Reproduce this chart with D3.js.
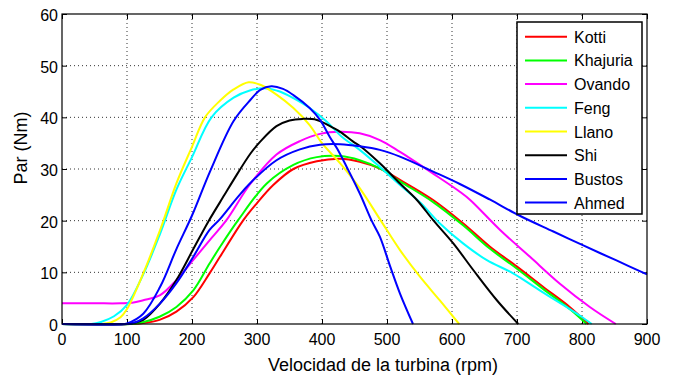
<!DOCTYPE html>
<html>
<head>
<meta charset="utf-8">
<script src="https://cdn.jsdelivr.net/npm/d3@7"></script>
<style>
  body { margin: 0; background: #fff; }
  text { font-family: "Liberation Sans", Arial, sans-serif; fill: #000; }
</style>
</head>
<body>
<div id="chart"></div>
<script>
// data: [rpm, Nm]
const kotti = [[0,0],[105,0],[120,0.1],[150,0.8],[176,2.4],[202,5.2],[227,9.8],[243,13],[279,20.1],[300,23.4],[325,26.9],[356,30],[392,31.5],[428,32],[458,31.4],[489,30.1],[520,27.9],[571,24],[617,19.5],[658,15],[700,11.1],[740,7.2],[781,3.3],[810,0]];
const khajuria = [[0,0],[105,0],[120,0.2],[150,1.4],[176,3.3],[202,6.5],[227,11.7],[243,14.9],[271,20.1],[315,27.2],[356,30.8],[392,32.3],[428,32.5],[458,31.7],[489,30.1],[520,27.6],[571,23.6],[617,19.1],[658,14.6],[700,10.7],[740,6.8],[781,2.9],[807,0]];
const ovando = [[0,4],[50,4],[90,4],[108,4.1],[125,4.6],[151,5.6],[176,8.5],[202,12.4],[227,16.2],[253,20.1],[289,27],[330,32.8],[366,35.4],[397,36.8],[428,37.2],[458,36.9],[489,35.6],[520,33.3],[571,29.1],[612,25.6],[628,24],[674,18.2],[720,13],[766,7.8],[812,3.3],[852,0]];
const feng = [[0,0],[45,0],[60,0.4],[80,1.5],[100,3.7],[125,9.6],[151,17.5],[176,26],[200,32.3],[230,40],[264,43.8],[289,45.2],[315,45.6],[335,45],[356,43.7],[381,41.8],[407,39.2],[430,36.3],[458,33.7],[489,30.4],[520,26.9],[551,23.5],[581,19.5],[617,15.6],[653,12.4],[694,9.8],[735,6.5],[776,3.3],[797,1.6],[815,0]];
const llano = [[0,0],[60,0],[75,0.3],[90,1.3],[100,2.9],[125,9.8],[151,18.2],[176,27.2],[200,34.3],[220,40],[243,43.2],[264,45.4],[287,46.8],[305,46.3],[330,44.4],[356,41.8],[381,38.5],[400,35],[428,31.1],[458,26.3],[489,20.3],[520,14.3],[551,9.1],[581,4.6],[611,0]];
const shi = [[0,0],[100,0],[110,0.2],[125,0.8],[151,4],[176,8.5],[202,14.5],[225,19.8],[250,25],[264,27.9],[290,33],[305,35.3],[330,38.3],[350,39.4],[370,39.7],[392,39.5],[418,37.9],[428,37.2],[448,35.3],[459,34.4],[489,31.1],[520,27.2],[546,24],[571,20.1],[602,15.6],[633,10.4],[669,4.6],[702,0]];
const bustos = [[0,0],[95,0],[100,0.1],[125,2],[151,7.2],[176,14.5],[200,21],[228,29.6],[264,39.3],[290,43.4],[305,45.3],[322,46],[340,45.5],[356,44.3],[381,41.8],[397,39.5],[412,36.2],[423,34],[438,30.4],[458,25.3],[476,20.1],[489,16.9],[505,11.1],[520,5.9],[540,0]];
const ahmed = [[0,0],[100,0],[110,0.2],[125,1.1],[151,4],[176,7.9],[202,13],[227,18.2],[243,20.3],[270,24.5],[289,27.2],[330,31.7],[366,33.8],[397,34.7],[428,34.8],[458,34.4],[489,33.7],[520,32.4],[571,29.5],[612,27.1],[658,24.1],[705,20.9],[756,17.9],[802,15.2],[853,12.3],[900,9.6]];

const names = ["Kotti", "Khajuria", "Ovando", "Feng", "Llano", "Shi", "Bustos", "Ahmed"];
const colors = ["#ff0000", "#00ff00", "#ff00ff", "#00ffff", "#ffff00", "#000000", "#0000ff", "#0000ff"];
const seriesList = [kotti, khajuria, ovando, feng, llano, shi, bustos, ahmed];

const xTicks = [0, 100, 200, 300, 400, 500, 600, 700, 800, 900];
const yTicks = [0, 10, 20, 30, 40, 50, 60];

const width = 678, height = 379;
const margin = {top: 14, right: 31, bottom: 55, left: 62};

const svg = d3.select("#chart")
    .append("svg")
    .attr("width", width)
    .attr("height", height);

const xScale = d3.scaleLinear()
    .domain([0, 900])
    .range([margin.left, width - margin.right]);

const yScale = d3.scaleLinear()
    .domain([0, 60])
    .range([height - margin.bottom, margin.top]);

const x0 = margin.left, x1 = width - margin.right;
const y0 = height - margin.bottom, y1 = margin.top;

// dotted grid
svg.append("g")
    .selectAll("line")
    .data(xTicks.slice(1, -1))
    .enter()
    .append("line")
    .attr("x1", d => xScale(d)).attr("x2", d => xScale(d))
    .attr("y1", y0).attr("y2", y1)
    .attr("stroke", "#333").attr("stroke-width", 1)
    .attr("stroke-dasharray", "1,3");

svg.append("g")
    .selectAll("line")
    .data(yTicks.slice(1, -1))
    .enter()
    .append("line")
    .attr("x1", x0).attr("x2", x1)
    .attr("y1", d => yScale(d)).attr("y2", d => yScale(d))
    .attr("stroke", "#333").attr("stroke-width", 1)
    .attr("stroke-dasharray", "1,3");

// axes, ticks pointing inward like matlab
svg.append("g")
    .attr("transform", `translate(0,${y0})`)
    .call(d3.axisTop(xScale).tickValues(xTicks).tickSize(5).tickFormat(""))
    .call(g => g.select(".domain").remove());

svg.append("g")
    .attr("transform", `translate(0,${y1})`)
    .call(d3.axisBottom(xScale).tickValues(xTicks).tickSize(5).tickFormat(""))
    .call(g => g.select(".domain").remove());

svg.append("g")
    .attr("transform", `translate(${x0},0)`)
    .call(d3.axisRight(yScale).tickValues(yTicks).tickSize(5).tickFormat(""))
    .call(g => g.select(".domain").remove());

svg.append("g")
    .attr("transform", `translate(${x1},0)`)
    .call(d3.axisLeft(yScale).tickValues(yTicks).tickSize(5).tickFormat(""))
    .call(g => g.select(".domain").remove());

// tick labels
svg.append("g")
    .selectAll("text")
    .data(xTicks)
    .enter()
    .append("text")
    .attr("x", d => xScale(d))
    .attr("y", y0 + 21)
    .attr("text-anchor", "middle")
    .attr("font-size", "16px")
    .text(d => d);

svg.append("g")
    .selectAll("text")
    .data(yTicks)
    .enter()
    .append("text")
    .attr("x", x0 - 4)
    .attr("y", d => yScale(d) + 7)
    .attr("text-anchor", "end")
    .attr("font-size", "16px")
    .text(d => d);

// curves
const line = d3.line()
    .x(d => xScale(d[0]))
    .y(d => yScale(d[1]))
    .curve(d3.curveCatmullRom.alpha(0.5));

svg.append("g")
    .selectAll("path")
    .data(seriesList)
    .enter()
    .append("path")
    .attr("d", d => line(d))
    .attr("fill", "none")
    .attr("stroke", (d, i) => colors[i])
    .attr("stroke-width", 2)
    .attr("stroke-linejoin", "round");

// frame
svg.append("rect")
    .attr("x", x0).attr("y", y1)
    .attr("width", x1 - x0).attr("height", y0 - y1)
    .attr("fill", "none")
    .attr("stroke", "#000")
    .attr("stroke-width", 1.2);

// axis titles
svg.append("text")
    .attr("x", 383)
    .attr("y", 371)
    .attr("text-anchor", "middle")
    .attr("font-size", "18px")
    .text("Velocidad de la turbina (rpm)");

svg.append("text")
    .attr("transform", "translate(27,148) rotate(-90)")
    .attr("text-anchor", "middle")
    .attr("font-size", "18px")
    .text("Par (Nm)");

// legend
const legend = svg.append("g");
legend.append("rect")
    .attr("x", 517).attr("y", 22)
    .attr("width", 125).attr("height", 192)
    .attr("fill", "#fff")
    .attr("stroke", "#000")
    .attr("stroke-width", 1.5);

const rows = legend.selectAll("g")
    .data(names)
    .enter()
    .append("g")
    .attr("transform", (d, i) => `translate(0,${36.7 + i * 23.7})`);

rows.append("line")
    .attr("x1", 525).attr("x2", 567)
    .attr("y1", 0).attr("y2", 0)
    .attr("stroke", (d, i) => colors[i])
    .attr("stroke-width", 2);

rows.append("text")
    .attr("x", 574)
    .attr("y", 6)
    .attr("font-size", "16px")
    .text(d => d);
</script>
</body>
</html>
